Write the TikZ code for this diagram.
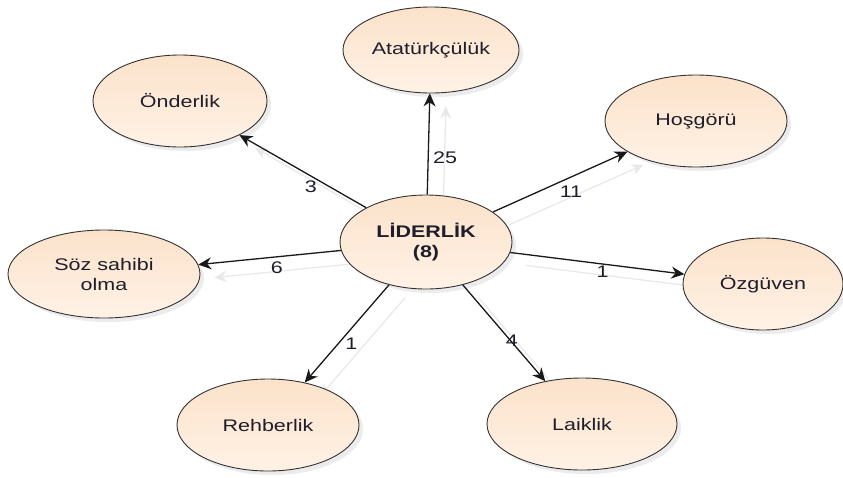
\documentclass[tikz,border=0pt]{standalone}
\usepackage{fontspec}
\setmainfont{Liberation Sans}[FakeStretch=1.28]
\usetikzlibrary{arrows.meta,shapes.geometric,shadows,backgrounds}
\definecolor{peachtop}{RGB}{251,226,202}
\definecolor{peachbot}{RGB}{255,242,230}
\definecolor{inkdark}{RGB}{30,30,42}
\definecolor{edgeshade}{RGB}{232,232,232}
\begin{document}
\begin{tikzpicture}[x=1pt,y=-1pt,
  topic/.style={ellipse, draw=black!80, line width=0.9pt,
    top color=peachtop, bottom color=peachbot, text=inkdark,
    align=center, inner sep=0pt, font=\fontsize{16.8}{20}\selectfont,
    drop shadow={shadow xshift=4pt, shadow yshift=-4pt, opacity=0.15}},
  link/.style={draw=black!90, line width=1.3pt, -{Stealth[length=13pt,width=12pt]}},
  linkshade/.style={draw=edgeshade, line width=1.2pt,
    -{Stealth[length=12pt,width=11pt]}, transform canvas={shift={(16,13)}}},
  count/.style={text=inkdark, font=\fontsize{16.8}{20}\selectfont, inner sep=1pt}]
\useasboundingbox (0,0) rectangle (843,477);

% central theme and its sub-themes
\node[topic, minimum width=172pt, minimum height=94pt, font=\bfseries\fontsize{16.8}{20}\selectfont]
  (lead) at (426,242) {LİDERLİK\\(8)};
\node[topic, minimum width=176pt, minimum height=86pt] (ata)   at (431,50)  {Atatürkçülük};
\node[topic, minimum width=174pt, minimum height=92pt] (onder) at (180,101) {Önderlik};
\node[topic, minimum width=182pt, minimum height=92pt] (hosg)  at (696,121) {Hoşgörü};
\node[topic, minimum width=192pt, minimum height=88pt] (soz)   at (104,274) {Söz sahibi\\olma};
\node[topic, minimum width=160pt, minimum height=92pt] (ozg)   at (763,284) {Özgüven};
\node[topic, minimum width=182pt, minimum height=92pt] (rehb)  at (268,425) {Rehberlik};
\node[topic, minimum width=190pt, minimum height=92pt] (laik)  at (582,424) {Laiklik};

% white page and the faint shadows of the links
\begin{scope}[on background layer]
  \fill[white] (0,0) rectangle (843,477);
  \foreach \t in {ata,onder,hosg,soz,ozg,rehb,laik}
    \draw[linkshade] (lead) -- (\t);
\end{scope}

% links with their frequencies
\draw[link] (lead) -- node[count, pos=0.36, xshift=17pt] (c25) {25} (ata);
\draw[link] (lead) -- node[count, pos=0.42, xshift=-2pt, yshift=-9pt] (c3) {3} (onder);
\draw[link] (lead) -- node[count, pos=0.58, yshift=-15pt] (c11) {11} (hosg);
\draw[link] (lead) -- node[count, pos=0.45, yshift=-11pt] (c6) {6} (soz);
\draw[link] (lead) -- node[count, pos=0.53, yshift=-8pt] (c1a) {1} (ozg);
\draw[link] (lead) -- node[count, pos=0.6, xshift=13pt] (c1b) {1} (rehb);
\draw[link] (lead) -- node[count, pos=0.62, xshift=-2pt, yshift=4pt] (c4) {4} (laik);
\end{tikzpicture}
\end{document}
